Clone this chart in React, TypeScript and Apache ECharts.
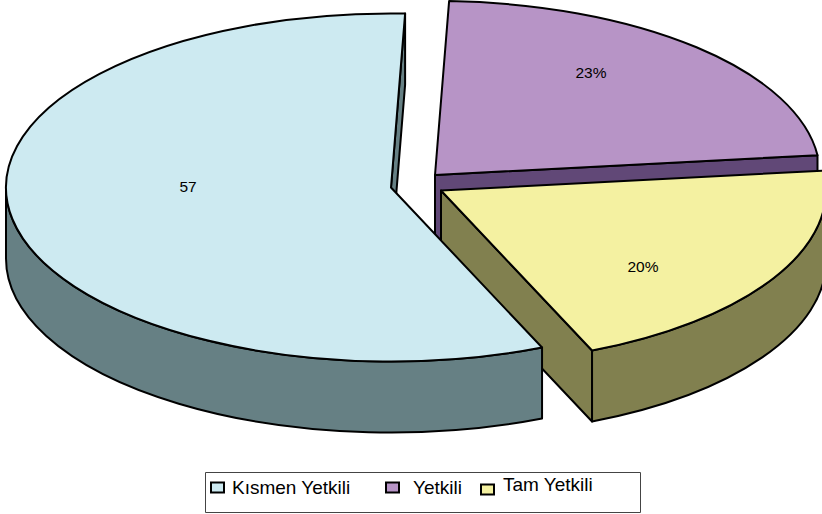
import React, { useEffect, useRef } from "react";
import * as echarts from "echarts";

const categories = ["Kısmen Yetkili", "Yetkili", "Tam Yetkili"];
const values = [57, 22.6, 20.4];
const sliceLabels = ["57", "23%", "20%"];

const topColors = ["#CDEAF1", "#B794C6", "#F4F1A1"];
const sideColors = ["#668084", "#614877", "#81804F"];
const centers = [[391, 187.5], [435, 175], [441, 190.5]];
const labelPositions = [[188, 186], [591, 72], [643, 266]];
const legendLayout = [
  { left: 210, top: 478, padL: 3, padB: 0 },
  { left: 385, top: 478, padL: 9, padB: 0 },
  { left: 480, top: 475, padL: 4, padB: 10 },
];
const FIRST_ANGLE = 156.9;
const RX = 385;
const RY = 174;
const DEPTH = 71;
const FONT = "Liberation Sans, Arial, sans-serif";

const total = values.reduce((a, b) => a + b, 0);
const starts: number[] = [];
values.reduce((acc, v, i) => {
  starts[i] = acc % 360;
  return acc + (v / total) * 360;
}, FIRST_ANGLE);

function pt(c: number[], deg: number, dy = 0): [number, number] {
  const t = (deg * Math.PI) / 180;
  return [c[0] + RX * Math.sin(t), c[1] - RY * Math.cos(t) + dy];
}
function arc(to: number[], large: boolean, cw: boolean) {
  return `A ${RX} ${RY} 0 ${large ? 1 : 0} ${cw ? 1 : 0} ${to[0]} ${to[1]}`;
}

function renderSlice(i: number) {
  const c = centers[i];
  const a = starts[i];
  const b = a + (values[i] / total) * 360;
  const lineStyle = { stroke: "#000", lineWidth: 2, lineJoin: "round" };
  const children: any[] = [];
  // radial wall at the closing edge, seen only when it faces the viewer
  if (Math.sin((b * Math.PI) / 180) > 0) {
    const r = pt(c, b);
    const rd = pt(c, b, DEPTH);
    children.push({
      type: "path",
      shape: { pathData: `M ${c[0]} ${c[1]} L ${r[0]} ${r[1]} L ${rd[0]} ${rd[1]} L ${c[0]} ${c[1] + DEPTH} Z` },
      style: { fill: sideColors[i], ...lineStyle },
    });
  }
  // outer wall: only the front half of the rim
  const fa = Math.max(a, 90);
  const fb = Math.min(b, 270);
  if (fb > fa) {
    const p1 = pt(c, fa);
    const p2 = pt(c, fb);
    const p3 = pt(c, fb, DEPTH);
    const p4 = pt(c, fa, DEPTH);
    children.push({
      type: "path",
      shape: {
        pathData: `M ${p1[0]} ${p1[1]} ${arc(p2, false, true)} L ${p3[0]} ${p3[1]} ${arc(p4, false, false)} Z`,
      },
      style: { fill: sideColors[i], ...lineStyle },
    });
  }
  const s = pt(c, a);
  const e = pt(c, b);
  children.push({
    type: "path",
    shape: {
      pathData: `M ${c[0]} ${c[1]} L ${s[0]} ${s[1]} ${arc(e, b - a > 180, true)} Z`,
    },
    style: { fill: topColors[i], ...lineStyle },
  });
  children.push({
    type: "text",
    x: labelPositions[i][0],
    y: labelPositions[i][1],
    style: {
      text: sliceLabels[i],
      fill: "#000",
      font: `15.5px ${FONT}`,
      align: "center",
      verticalAlign: "middle",
    },
  });
  return { type: "group", children };
}

// drawn back to front: the purple slice, then yellow, then the large blue one
const drawOrder = [1, 2, 0];

export default function App() {
  const ref = useRef<HTMLDivElement>(null);
  useEffect(() => {
    const chart = echarts.init(ref.current!, undefined, { renderer: "svg" });
    chart.setOption({
      animation: false,
      backgroundColor: "#fff",
      legend: categories.map((name, i) => ({
        data: [name],
        left: legendLayout[i].left,
        top: legendLayout[i].top,
        padding: 0,
        itemWidth: 13,
        itemHeight: 10,
        icon: "rect",
        itemStyle: { color: topColors[i], borderColor: "#000", borderWidth: 2 },
        selectedMode: false,
        formatter: (n: string) => `{t|${n}}`,
        textStyle: {
          color: "#000",
          rich: {
            t: {
              fontFamily: FONT,
              fontSize: 19,
              color: "#000",
              padding: [0, 0, legendLayout[i].padB, legendLayout[i].padL],
            },
          },
        },
      })),
      graphic: [
        {
          type: "rect",
          z: -1,
          shape: { x: 205.5, y: 472.5, width: 435, height: 40 },
          style: { fill: "#fff", stroke: "#444", lineWidth: 1 },
        },
      ],
      series: drawOrder.map((i) => ({
        type: "custom",
        name: categories[i],
        coordinateSystem: "none",
        itemStyle: { color: topColors[i] },
        data: [[values[i]]],
        renderItem: () => renderSlice(i),
      })),
    });
    return () => chart.dispose();
  }, []);
  return <div ref={ref} style={{ position: "absolute", left: 0, top: 0, width: 822, height: 514 }} />;
}
